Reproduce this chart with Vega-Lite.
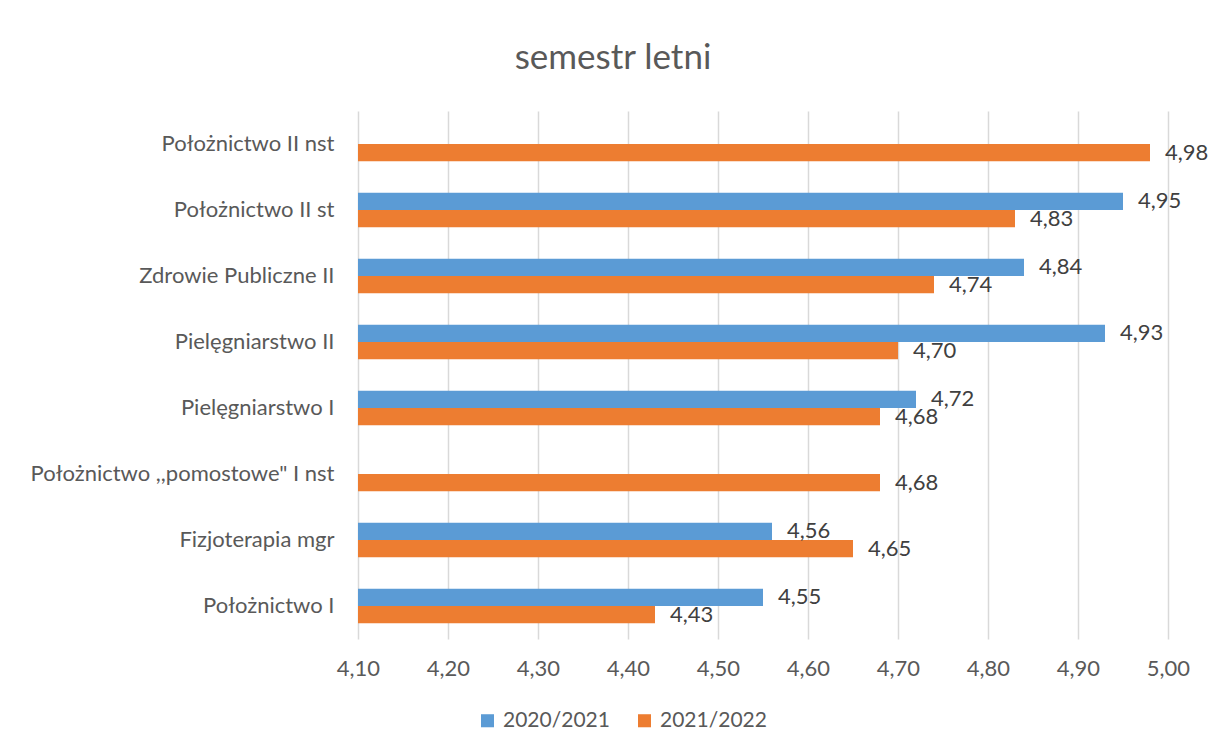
{
  "$schema": "https://vega.github.io/schema/vega-lite/v6.json",
  "autosize": {"type": "none"},
  "padding": {"left": 358, "top": 111, "right": 40, "bottom": 115},
  "width": 810,
  "height": 528,
  "background": "white",
  "title": {"text": "semestr letni", "fontSize": 35, "fontWeight": "normal", "color": "#595959", "anchor": "middle", "dx": -150, "offset": 35},
  "data": {"values": [
    {"kierunek": "Położnictwo II nst", "rok": "2021/2022", "ocena": 4.98},
    {"kierunek": "Położnictwo II st", "rok": "2020/2021", "ocena": 4.95},
    {"kierunek": "Położnictwo II st", "rok": "2021/2022", "ocena": 4.83},
    {"kierunek": "Zdrowie Publiczne II ", "rok": "2020/2021", "ocena": 4.84},
    {"kierunek": "Zdrowie Publiczne II ", "rok": "2021/2022", "ocena": 4.74},
    {"kierunek": "Pielęgniarstwo II", "rok": "2020/2021", "ocena": 4.93},
    {"kierunek": "Pielęgniarstwo II", "rok": "2021/2022", "ocena": 4.70},
    {"kierunek": "Pielęgniarstwo I", "rok": "2020/2021", "ocena": 4.72},
    {"kierunek": "Pielęgniarstwo I", "rok": "2021/2022", "ocena": 4.68},
    {"kierunek": "Położnictwo ,,pomostowe\" I nst", "rok": "2021/2022", "ocena": 4.68},
    {"kierunek": "Fizjoterapia mgr", "rok": "2020/2021", "ocena": 4.56},
    {"kierunek": "Fizjoterapia mgr", "rok": "2021/2022", "ocena": 4.65},
    {"kierunek": "Położnictwo I", "rok": "2020/2021", "ocena": 4.55},
    {"kierunek": "Położnictwo I", "rok": "2021/2022", "ocena": 4.43}
  ]},
  "encoding": {
    "y": {
      "field": "kierunek", "type": "nominal", "sort": null,
      "scale": {"paddingInner": 0.476, "paddingOuter": 0.238},
      "axis": {"title": null, "domain": false, "ticks": false, "grid": false, "labelFontSize": 22, "labelColor": "#595959", "labelPadding": 24, "labelLimit": 400}
    },
    "yOffset": {"field": "rok", "type": "nominal", "sort": ["2020/2021", "2021/2022"], "scale": {"paddingInner": 0, "paddingOuter": 0}},
    "x": {
      "field": "ocena", "type": "quantitative",
      "scale": {"domain": [4.1, 5.0], "nice": false, "zero": false},
      "axis": {"title": null, "values": [4.1, 4.2, 4.3, 4.4, 4.5, 4.6, 4.7, 4.8, 4.9, 5.0], "format": ".2f", "domain": false, "ticks": false, "grid": true, "gridColor": "#D9D9D9", "gridWidth": 1.5, "labelFontSize": 22, "labelColor": "#595959", "labelPadding": 19, "labelFlush": false}
    }
  },
  "layer": [
    {
      "mark": {"type": "bar"},
      "encoding": {
        "x2": {"datum": 4.1},
        "color": {
          "field": "rok", "type": "nominal",
          "scale": {"domain": ["2020/2021", "2021/2022"], "range": ["#5B9BD5", "#ED7D31"]},
          "legend": {"title": null, "orient": "none", "direction": "horizontal", "legendX": 119, "legendY": 599, "symbolType": "square", "symbolSize": 170, "symbolStrokeWidth": 0, "labelFontSize": 21, "labelColor": "#595959", "columnPadding": 24, "labelOffset": 5}
        }
      }
    },
    {
      "mark": {"type": "text", "align": "left", "baseline": "middle", "dx": 15, "fontSize": 22, "color": "#404040"},
      "encoding": {
        "text": {"field": "ocena", "type": "quantitative", "format": ".2f"}
      }
    }
  ],
  "config": {
    "font": "Lato",
    "view": {"stroke": null},
    "locale": {"number": {"decimal": ",", "thousands": " ", "grouping": [3], "currency": ["", " zł"]}}
  }
}
